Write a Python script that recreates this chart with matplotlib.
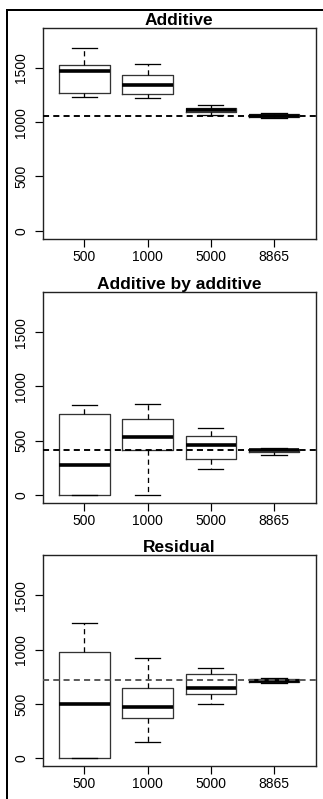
import matplotlib
matplotlib.use("Agg")
import matplotlib.pyplot as plt
from matplotlib.lines import Line2D

plt.rcParams['font.family'] = ['Liberation Sans', 'DejaVu Sans']

sizes = ["500", "1000", "5000", "8865"]
titles = ["Additive", "Additive by additive", "Residual"]

# Additive
add_whislo = [1229, 1222, 1065, 1037]
add_q1     = [1269, 1263, 1093, 1046]
add_med    = [1469, 1346, 1111, 1059]
add_q3     = [1531, 1432, 1127, 1071]
add_whishi = [1680, 1534, 1157, 1083]
add_ref = 1056

# Additive by additive
aa_whislo = [0, 0, 237, 369]
aa_q1     = [0, 415, 329, 394]
aa_med    = [271, 532, 455, 409]
aa_q3     = [747, 698, 544, 424]
aa_whishi = [824, 833, 612, 436]
aa_ref = 412

# Residual
res_whislo = [0, 147, 500, 690]
res_q1     = [0, 374, 595, 700]
res_med    = [500, 472, 647, 712]
res_q3     = [979, 647, 776, 728]
res_whishi = [1249, 921, 831, 742]
res_ref = 721

panels = [
    (add_whislo, add_q1, add_med, add_q3, add_whishi, add_ref, 'black'),
    (aa_whislo, aa_q1, aa_med, aa_q3, aa_whishi, aa_ref, 'black'),
    (res_whislo, res_q1, res_med, res_q3, res_whishi, res_ref, '#555555'),
]

W, H = 323, 799
fig = plt.figure(figsize=(W / 100, H / 100), dpi=100)

px = 0.72  # one pixel in points
left = 42.7 / W
width = (315.7 - 42.7) / W
tops = [27.5, 291.7, 555.0]
hpx = 211.0

for i, (wl, q1, med, q3, wh, ref, refc) in enumerate(panels):
    bottom = 1 - (tops[i] + hpx) / H
    ax = fig.add_axes([left, bottom, width, hpx / H])
    stats = []
    for j in range(len(sizes)):
        stats.append(dict(whislo=wl[j], q1=q1[j], med=med[j], q3=q3[j],
                          whishi=wh[j], fliers=[], label=sizes[j]))
    ax.bxp(stats, positions=range(1, len(sizes) + 1), widths=0.8,
           showfliers=False,
           boxprops=dict(color='#333333', linewidth=1.3 * px),
           medianprops=dict(color='black', linewidth=3.6 * px, solid_capstyle='butt'),
           whiskerprops=dict(color='black', linewidth=1.3 * px, linestyle=(0, (4, 3))),
           capprops=dict(color='black', linewidth=1.3 * px))
    ax.axhline(ref, color=refc, linewidth=1.9 * px, linestyle=(0, (3.2, 2.2)), zorder=5)
    ax.set_xlim(0.34, 4.66)
    ax.set_ylim(-72, 1872)
    ax.set_yticks([0, 500, 1000, 1500])
    ax.set_yticklabels(["0", "500", "1000", "1500"])
    ax.set_xticks(range(1, len(sizes) + 1))
    ax.set_xticklabels(sizes)
    ax.tick_params(axis='both', direction='out', length=8 * px, width=1.2 * px,
                   labelsize=10, colors='black')
    ax.tick_params(axis='x', pad=2.5)
    ax.tick_params(axis='y', pad=4.5)
    for lab in ax.get_yticklabels():
        lab.set_rotation(90)
        lab.set_va('center')
    for sp in ax.spines.values():
        sp.set_linewidth(1.4 * px)
        sp.set_color('#222222')
    ax.set_title(titles[i], fontsize=12.5, fontweight='bold', pad=2)

# outer frame (left and top edges visible)
fig.add_artist(Line2D([7 / W, 7 / W], [0, 1 - 10 / H], transform=fig.transFigure,
                      color='black', linewidth=2 * px))
fig.add_artist(Line2D([7 / W, 1], [1 - 10 / H, 1 - 10 / H], transform=fig.transFigure,
                      color='black', linewidth=2 * px))

fig.savefig("out.png", dpi=100, facecolor='white')
